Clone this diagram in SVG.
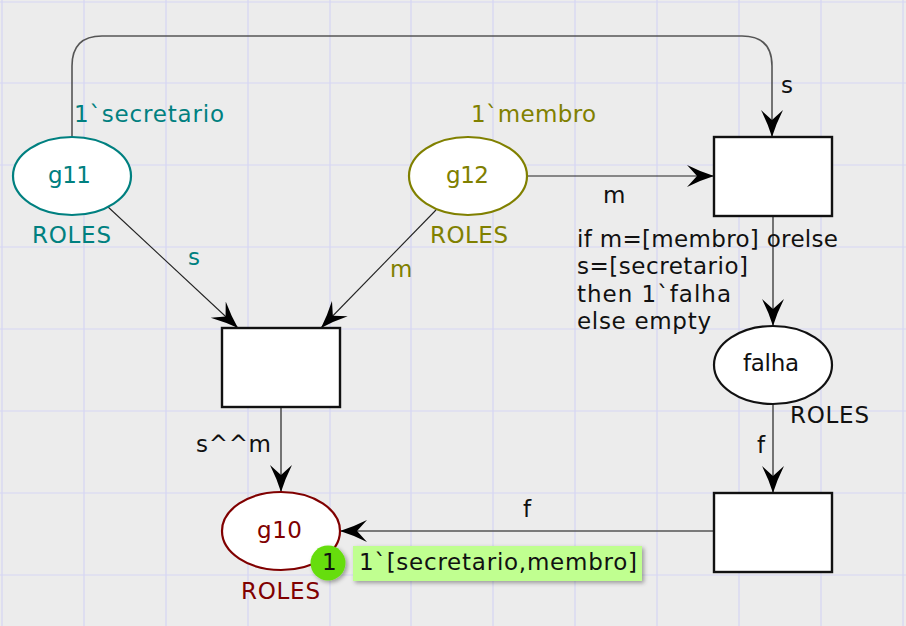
<svg xmlns="http://www.w3.org/2000/svg" width="906" height="626" viewBox="0 0 906 626">
<style>
text{font-family:"DejaVu Sans","Liberation Sans",sans-serif;font-size:23px;}
.grid line{stroke:#d6d6f4;stroke-width:1.2}
.arc{fill:none;stroke:#555;stroke-width:1.6}
.thin{fill:none;stroke:#222;stroke-width:1.1}
.place{fill:#fff;stroke-width:2.2}
.trans{fill:#fff;stroke:#111;stroke-width:2.4}
.teal{fill:#008080}.olive{fill:#808000}.red{fill:#800000}.blk{fill:#111}
</style>
<defs>
<marker id="ah" markerUnits="userSpaceOnUse" orient="auto" markerWidth="28" markerHeight="23" refX="27" refY="11">
<path d="M27,11 Q14,7 0,0 L10,11 L0,22 Q14,15 27,11 Z" fill="#000"/>
</marker>
<filter id="sh" x="-10%" y="-20%" width="130%" height="160%">
<feDropShadow dx="2" dy="2" stdDeviation="2" flood-color="#000" flood-opacity="0.35"/>
</filter>
</defs>
<rect width="906" height="626" fill="#ececec"/>
<g class="grid">
<line x1="2" y1="0" x2="2" y2="626"/><line x1="84" y1="0" x2="84" y2="626"/><line x1="166" y1="0" x2="166" y2="626"/><line x1="248" y1="0" x2="248" y2="626"/><line x1="330" y1="0" x2="330" y2="626"/><line x1="411" y1="0" x2="411" y2="626"/><line x1="493" y1="0" x2="493" y2="626"/><line x1="575" y1="0" x2="575" y2="626"/><line x1="657" y1="0" x2="657" y2="626"/><line x1="739" y1="0" x2="739" y2="626"/><line x1="821" y1="0" x2="821" y2="626"/><line x1="903" y1="0" x2="903" y2="626"/>
<line x1="0" y1="2" x2="906" y2="2"/><line x1="0" y1="83" x2="906" y2="83"/><line x1="0" y1="165" x2="906" y2="165"/><line x1="0" y1="247" x2="906" y2="247"/><line x1="0" y1="329" x2="906" y2="329"/><line x1="0" y1="411" x2="906" y2="411"/><line x1="0" y1="493" x2="906" y2="493"/><line x1="0" y1="575" x2="906" y2="575"/>
</g>
<g id="connectors">
<path class="arc" d="M72,137 V66 Q72,36 102,36 H742 Q772,36 772,66 V137" marker-end="url(#ah)"/>
<text class="blk" x="781" y="93" textLength="11">s</text>
<path class="thin" d="M527,176 H714" marker-end="url(#ah)"/>
<text class="blk" x="603" y="203" textLength="21">m</text>
<path class="thin" d="M107,206 L238,328" marker-end="url(#ah)"/>
<text class="teal" x="188" y="265" textLength="11">s</text>
<path class="thin" d="M436,210 L321,328" marker-end="url(#ah)"/>
<text class="olive" x="390" y="277" textLength="21">m</text>
<path class="arc" d="M281,407 V492" marker-end="url(#ah)"/>
<text class="blk" x="196" y="452" textLength="75">s^^m</text>
<path class="arc" d="M773,216 V326" marker-end="url(#ah)"/>
<text class="blk" x="577" y="247" textLength="261">if m=[membro] orelse</text>
<text class="blk" x="577" y="274" textLength="171">s=[secretario]</text>
<text class="blk" x="577" y="302" textLength="154">then 1`falha</text>
<text class="blk" x="577" y="329" textLength="134">else empty</text>
<path class="arc" d="M773,404 V493" marker-end="url(#ah)"/>
<text class="blk" x="757" y="453" textLength="10">f</text>
<path class="arc" d="M714,531 H340" marker-end="url(#ah)"/>
<text class="blk" x="523" y="517" textLength="10">f</text>
</g>
<g id="g11">
<ellipse class="place" cx="72" cy="176" rx="59" ry="39" stroke="#008080"/>
<text class="teal" x="48" y="183" textLength="43">g11</text>
<text class="teal" x="32" y="243" textLength="79">ROLES</text>
<text class="teal" x="74" y="122" textLength="150">1`secretario</text>
</g>
<g id="g12">
<ellipse class="place" cx="468" cy="176" rx="59" ry="39" stroke="#808000"/>
<text class="olive" x="446" y="183" textLength="43">g12</text>
<text class="olive" x="430" y="243" textLength="78">ROLES</text>
<text class="olive" x="471" y="122" textLength="125">1`membro</text>
</g>
<g id="t1">
<rect class="trans" x="714" y="137" width="118" height="79"/>
</g>
<g id="t2">
<rect class="trans" x="222" y="328" width="118" height="79"/>
</g>
<g id="falha">
<ellipse class="place" cx="773" cy="365" rx="59" ry="39" stroke="#111"/>
<text class="blk" x="743" y="371" textLength="56">falha</text>
<text class="blk" x="790" y="423" textLength="79">ROLES</text>
</g>
<g id="t3">
<rect class="trans" x="714" y="493" width="118" height="79"/>
</g>
<g id="g10">
<ellipse class="place" cx="281" cy="531" rx="59" ry="39" stroke="#800000"/>
<text class="red" x="257" y="538" textLength="45">g10</text>
<text class="red" x="241" y="599" textLength="79">ROLES</text>
<circle cx="328" cy="563" r="17.5" fill="#66dd11" filter="url(#sh)"/>
<text class="blk" x="322" y="570" textLength="12">1</text>
<rect x="353" y="546" width="289" height="35" fill="#c0ff90" filter="url(#sh)"/>
<text class="blk" x="359" y="570" textLength="278">1`[secretario,membro]</text>
</g>
</svg>
